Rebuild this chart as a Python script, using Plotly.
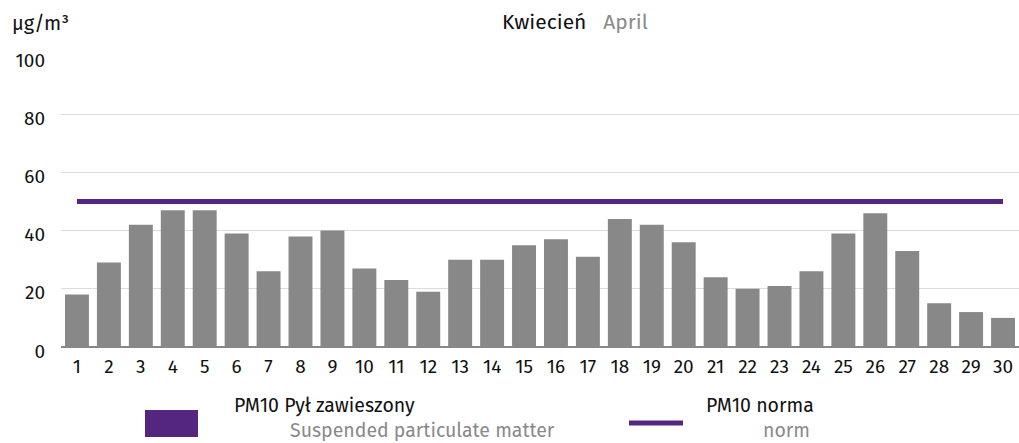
import plotly.graph_objects as go

# Daily PM10 concentrations for April (µg/m³)
days = list(range(1, 31))
pm10 = [18, 29, 42, 47, 47, 39, 26, 38, 40, 27,
        23, 19, 30, 30, 35, 37, 31, 44, 42, 36,
        24, 20, 21, 26, 39, 46, 33, 15, 12, 10]
norm_value = 50
y_ticks = [0, 20, 40, 60, 80, 100]

W, H = 1019, 443
ML, MR, MT, MB = 61, 0, 56, 96
PW, PH = W - ML - MR, H - MT - MB

FONT = "Fira Sans, Noto Sans, Open Sans, sans-serif"
FS = 19
FS_TXT = 21
FS_LEG = 19.5
PURPLE = "#54267f"
BAR = "#888888"
GREY_TXT = "#8a8a8a"
INK = "#111111"


def px(x):
    return (x - ML) / PW


def py(y):
    return (H - MB - y) / PH


fig = go.Figure()
fig.add_trace(go.Bar(x=days, y=pm10, marker=dict(color=BAR, line=dict(width=0)),
                     showlegend=False))
fig.add_trace(go.Scatter(x=[days[0], days[-1]], y=[norm_value, norm_value],
                         mode="lines", line=dict(color=PURPLE, width=5),
                         showlegend=False))

annotations = [
    dict(text="µg/m³", x=px(10), y=py(23), xanchor="left", yanchor="middle",
         font=dict(size=20, color=INK)),
    dict(text="Kwiecień&nbsp;&nbsp;&nbsp;<span style='color:%s'>April</span>" % GREY_TXT,
         x=px(500), y=py(22), xanchor="left", yanchor="middle",
         font=dict(size=FS_TXT, color=INK)),
    dict(text="PM10 Pył zawieszony", x=px(232), y=py(405), xanchor="left", yanchor="middle",
         font=dict(size=FS_LEG, color=INK)),
    dict(text="Suspended particulate matter", x=px(288), y=py(430.5), xanchor="left",
         yanchor="middle", font=dict(size=FS_LEG, color=GREY_TXT)),
    dict(text="PM10 norma", x=px(704), y=py(405), xanchor="left", yanchor="middle",
         font=dict(size=FS_LEG, color=INK)),
    dict(text="norm", x=px(786), y=py(430.5), xanchor="center", yanchor="middle",
         font=dict(size=FS_LEG, color=GREY_TXT)),
]
for a in annotations:
    a.update(xref="paper", yref="paper", showarrow=False)

shapes = [
    dict(type="rect", xref="paper", yref="paper", x0=px(145), x1=px(198),
         y0=py(410), y1=py(437), fillcolor=PURPLE, line=dict(width=0)),
    dict(type="line", xref="paper", yref="paper", x0=px(629), x1=px(683),
         y0=py(423), y1=py(423), line=dict(color=PURPLE, width=5)),
]

fig.update_layout(
    width=W, height=H,
    margin=dict(l=ML, r=MR, t=MT, b=MB),
    paper_bgcolor="white", plot_bgcolor="white",
    font=dict(family=FONT, size=FS, color=INK),
    bargap=0.25,
    xaxis=dict(range=[0.5, 30.5], tickmode="array", tickvals=days,
               ticktext=[str(d) for d in days], showgrid=False, zeroline=False,
               showline=False, ticks="", ticklabelstandoff=6,
               tickfont=dict(size=FS, color=INK)),
    yaxis=dict(range=[0, 100], tickmode="array", tickvals=y_ticks,
               showgrid=True, gridcolor="#dcdcdc", gridwidth=1,
               zeroline=True, zerolinecolor="#888888", zerolinewidth=2,
               showline=False, ticks="", ticklabelstandoff=15, ticklabelshift=4,
               tickfont=dict(size=FS, color=INK)),
    annotations=annotations,
    shapes=shapes,
)

fig.write_html("out.html")
